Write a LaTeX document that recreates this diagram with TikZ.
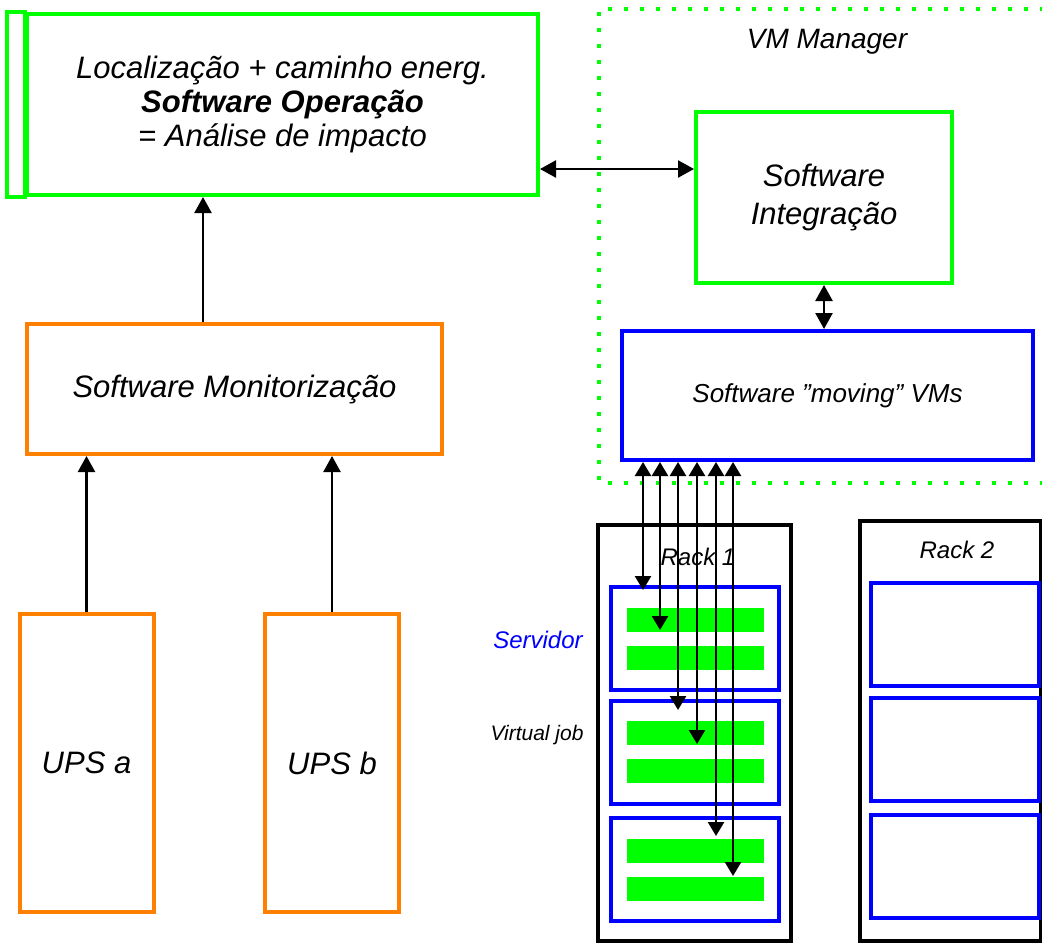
\documentclass[tikz,border=0pt]{standalone}
\usepackage{fontspec}
\setmainfont{Liberation Sans}
\usetikzlibrary{shapes, arrows.meta, positioning}
\definecolor{vmgreen}{RGB}{0,255,0}
\definecolor{upsorange}{RGB}{255,128,0}
\definecolor{srvblue}{RGB}{0,0,255}
\tikzstyle{greenbox} = [rectangle, draw=vmgreen, line width=2pt, align=center, font=\itshape\fontsize{15.5}{19}\selectfont]
\tikzstyle{upsbox} = [rectangle, draw=upsorange, line width=2pt, align=center, font=\itshape\fontsize{15.5}{19}\selectfont]
\tikzstyle{vmbox} = [rectangle, draw=srvblue, line width=2pt, align=center, font=\itshape\fontsize{13}{15}\selectfont]
\tikzstyle{rack} = [rectangle, draw=black, line width=2pt]
\tikzstyle{server} = [rectangle, draw=srvblue, line width=2pt, minimum width=84pt, minimum height=51.5pt]
\tikzstyle{vmjob} = [rectangle, fill=vmgreen, minimum width=68.5pt, minimum height=12pt, inner sep=0pt]
\tikzstyle{tag} = [inner sep=0pt, font=\itshape\fontsize{12}{14}\selectfont]

\begin{document}
\begin{tikzpicture}[x=0.5pt, y=-0.5pt, node distance=100pt]
\useasboundingbox (0,0) rectangle (1042,943);

\node (operacao) [greenbox, minimum width=255.5pt, minimum height=90.5pt, font=\itshape\fontsize{15.5}{17}\selectfont] at (282.5,104.5) {Localização + caminho energ.\\ \textbf{Software Operação}\\ = Análise de impacto};
\node (monitor) [upsbox, below of=operacao, xshift=-24pt, yshift=-42.25pt, minimum width=207.5pt, minimum height=65pt] {Software Monitorização};
\node (upsa) [upsbox, below of=monitor, xshift=-74pt, yshift=-87pt, minimum width=67pt, minimum height=149pt] {UPS a};
\node (upsb) [upsbox, below of=monitor, xshift=48.75pt, yshift=-87pt, minimum width=67pt, minimum height=149pt] {UPS b};
\node (integracao) [greenbox, below of=operacao, xshift=270.75pt, yshift=53.5pt, minimum width=128pt, minimum height=85.5pt] {Software\\ Integração};
\node (manager) [tag, above of=integracao, xshift=1.5pt, yshift=-22.25pt, font=\itshape\fontsize{14}{16}\selectfont] {VM Manager};
\node (moving) [vmbox, below of=integracao, xshift=1.75pt, yshift=1pt, minimum width=205.5pt, minimum height=64.5pt] {Software ”moving” VMs};

\node (rack1) [rack, below of=moving, xshift=-66.5pt, yshift=-68.75pt, minimum width=96.5pt, minimum height=208pt] {};
\node (rack1name) [tag, below of=rack1, xshift=1.75pt, yshift=188pt] {Rack 1};
\node (srv1a) [server, below of=rack1, xshift=0.25pt, yshift=147.25pt] {};
\node (srv1b) [server, below of=srv1a, yshift=43.25pt] {};
\node (srv1c) [server, below of=srv1b, yshift=41.25pt] {};
\node (job1a) [vmjob, below of=srv1a, yshift=109.5pt] {};
\node (job1b) [vmjob, below of=srv1a, yshift=90.5pt] {};
\node (job2a) [vmjob, below of=srv1b, yshift=109.5pt] {};
\node (job2b) [vmjob, below of=srv1b, yshift=90.5pt] {};
\node (job3a) [vmjob, below of=srv1c, yshift=109.5pt] {};
\node (job3b) [vmjob, below of=srv1c, yshift=90.5pt] {};
\node (servidor) [tag, left of=srv1a, xshift=21.5pt, yshift=-0.75pt, text=srvblue] {Servidor};
\node (virtualjob) [tag, left of=srv1b, xshift=21pt, yshift=8.5pt, font=\itshape\fontsize{10.5}{12}\selectfont] {Virtual job};

\node (rack2) [rack, below of=moving, xshift=61.5pt, yshift=-67.75pt, minimum width=90.5pt, minimum height=210pt] {};
\node (rack2name) [tag, below of=rack2, xshift=3.25pt, yshift=190.5pt] {Rack 2};
\node (srv2a) [server, below of=rack2, xshift=2.25pt, yshift=148.25pt] {};
\node (srv2b) [server, below of=srv2a, yshift=42.75pt] {};
\node (srv2c) [server, below of=srv2b, yshift=41.25pt] {};

% VM Manager frame and second edge of the operation box
\draw[vmgreen, line width=2pt, dash pattern=on 2pt off 6pt] (1060,9) -- (599,9) -- (599,483) -- (1060,483);
\draw[vmgreen, line width=2pt] ([xshift=-9pt]operacao.north west) rectangle (operacao.south west);

\draw[-{Triangle[length=8pt,width=8.5pt]}, line width=1.2pt] ([xshift=-15.75pt]monitor.north) -- ([xshift=-15.75pt]monitor.north |- operacao.south);
\draw[-{Triangle[length=8pt,width=8.5pt]}, line width=1.2pt] (upsa.north) -- (upsa.north |- monitor.south);
\draw[-{Triangle[length=8pt,width=8.5pt]}, line width=1.2pt] (upsb.north) -- (upsb.north |- monitor.south);
\draw[{Triangle[length=8pt,width=8.5pt]}-{Triangle[length=8pt,width=8.5pt]}, line width=1.2pt] ([yshift=14.25pt]integracao.west) -- ([yshift=14.25pt]integracao.west -| operacao.east);
\draw[{Triangle[length=8pt,width=8.5pt]}-{Triangle[length=8pt,width=8.5pt]}, line width=1.2pt] (integracao.south) -- (integracao.south |- moving.north);

\coordinate (tip1) at (643,590);
\coordinate (tip2) at (660,630);
\coordinate (tip3) at (678,710);
\coordinate (tip4) at (697,744);
\coordinate (tip5) at (716,836);
\coordinate (tip6) at (733,876);
\draw[{Triangle[length=7pt,width=8pt]}-{Triangle[length=7pt,width=8pt]}, line width=1.2pt] (moving.south -| tip1) -- (tip1);
\draw[{Triangle[length=7pt,width=8pt]}-{Triangle[length=7pt,width=8pt]}, line width=1.2pt] (moving.south -| tip2) -- (tip2);
\draw[{Triangle[length=7pt,width=8pt]}-{Triangle[length=7pt,width=8pt]}, line width=1.2pt] (moving.south -| tip3) -- (tip3);
\draw[{Triangle[length=7pt,width=8pt]}-{Triangle[length=7pt,width=8pt]}, line width=1.2pt] (moving.south -| tip4) -- (tip4);
\draw[{Triangle[length=7pt,width=8pt]}-{Triangle[length=7pt,width=8pt]}, line width=1.2pt] (moving.south -| tip5) -- (tip5);
\draw[{Triangle[length=7pt,width=8pt]}-{Triangle[length=7pt,width=8pt]}, line width=1.2pt] (moving.south -| tip6) -- (tip6);

\end{tikzpicture}
\end{document}
